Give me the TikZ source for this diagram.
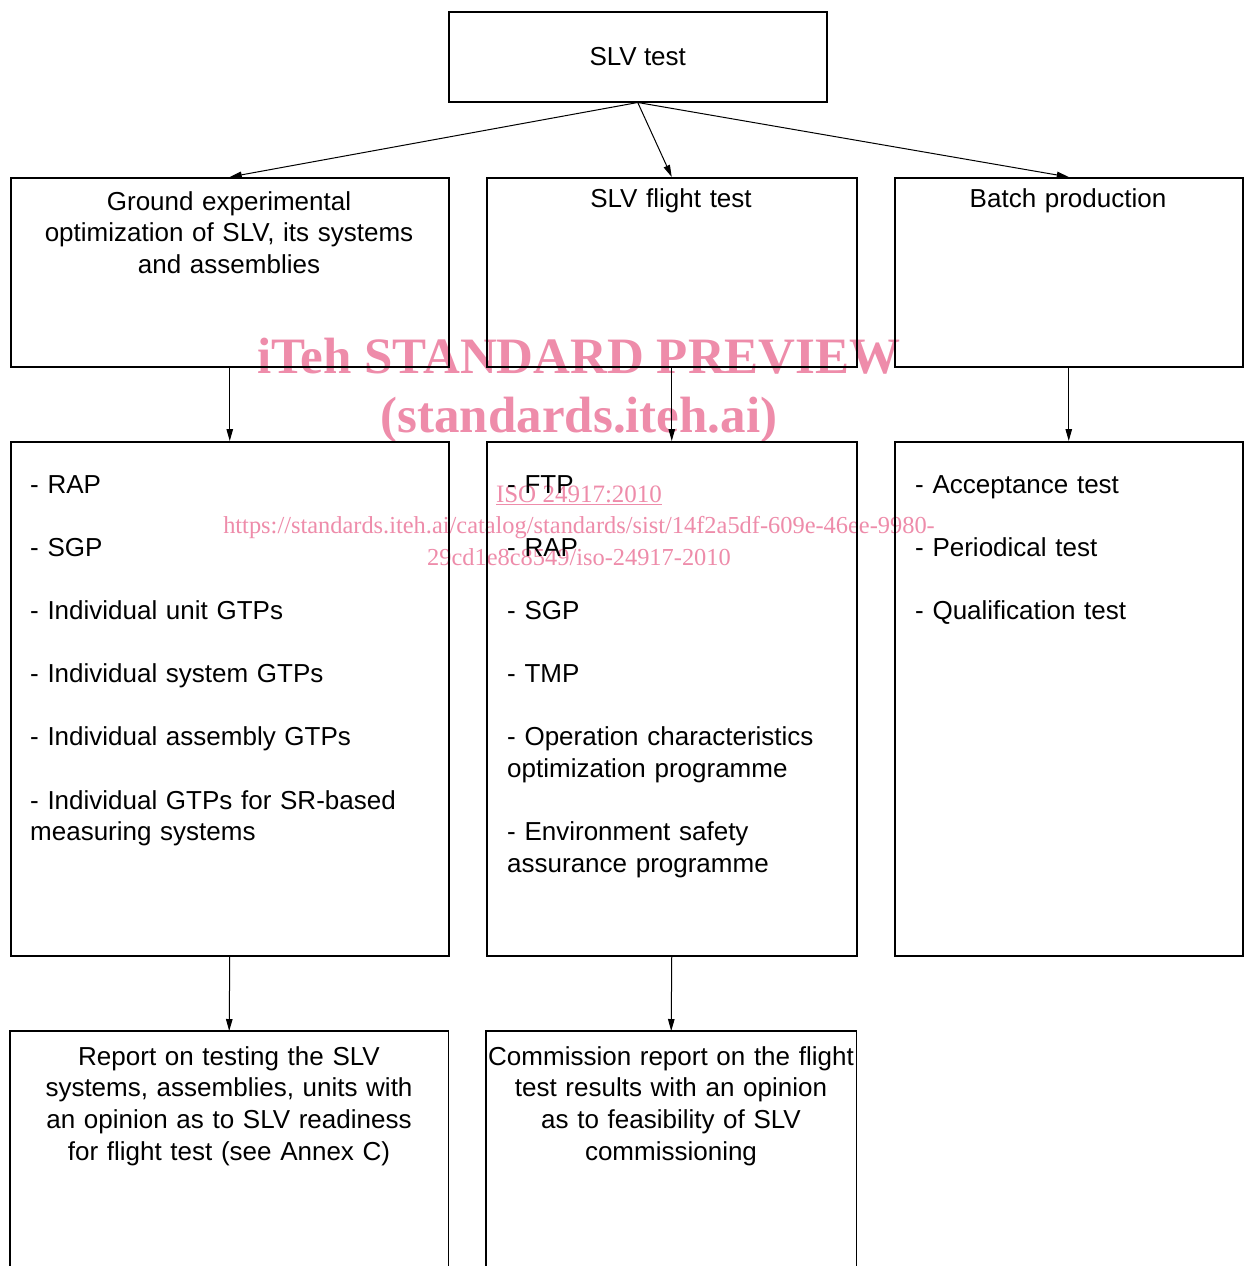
\documentclass[tikz,border=0pt]{standalone}
\usepackage{fontspec}
\setmainfont{Liberation Sans}
\newfontfamily\wmfont{Liberation Serif}
\usetikzlibrary{arrows.meta}
\definecolor{wmpink}{RGB}{238,140,170}
\begin{document}
\begin{tikzpicture}[x=1pt,y=-1pt,
  box/.style={draw, line width=1.5pt, rectangle, inner sep=0pt, anchor=north west},
  arr/.style={-{Triangle[length=12pt,width=6.5pt]}, line width=1pt},
  txt/.style={font=\fontsize{26}{31.7}\selectfont, inner sep=0pt},
  ltxt/.style={txt, anchor=base west, text width=410pt, align=left},
  ctxt/.style={txt, anchor=base, align=center},
  wm/.style={text=wmpink, inner sep=0pt, anchor=base}]
\useasboundingbox[fill=white] (0,0) rectangle (1244,1266);

% watermark
\node[wm, font=\wmfont\bfseries\fontsize{51}{51}\selectfont] (wm1) at (579,373) {iTeh STANDARD PREVIEW};
\node[wm, font=\wmfont\bfseries\fontsize{51}{51}\selectfont] (wm2) at (579,432) {(standards.iteh.ai)};
\node[wm, font=\wmfont\fontsize{25}{25}\selectfont] (wm3) at (579,502) {\underline{ISO 24917:2010}};
\node[wm, font=\wmfont\fontsize{24.4}{24.4}\selectfont] (wm4) at (579,533) {https://standards.iteh.ai/catalog/standards/sist/14f2a5df-609e-46ee-9980-};
\node[wm, font=\wmfont\fontsize{24.4}{24.4}\selectfont] (wm5) at (579,565) {29cd1e8c8549/iso-24917-2010};

% boxes
\node[box, minimum width=378pt, minimum height=90pt] (slv) at (448,11) {};
\node[box, minimum width=438pt, minimum height=189pt] (ground) at (10,177) {};
\node[box, minimum width=370pt, minimum height=189pt] (flight) at (486,177) {};
\node[box, minimum width=348pt, minimum height=189pt] (batch) at (894,177) {};
\node[box, minimum width=438pt, minimum height=514pt] (list1) at (10,441) {};
\node[box, minimum width=370pt, minimum height=514pt] (list2) at (486,441) {};
\node[box, minimum width=348pt, minimum height=514pt] (list3) at (894,441) {};
\node[inner sep=0pt, anchor=north west, minimum width=438pt, minimum height=260pt] (rep1) at (10,1031) {};
\node[inner sep=0pt, anchor=north west, minimum width=370pt, minimum height=260pt] (rep2) at (486,1031) {};
\draw[line width=1.5pt] (rep1.south west) -- (rep1.north west) -- (rep1.north east) -- (rep1.south east);
\draw[line width=1.5pt] (rep2.south west) -- (rep2.north west) -- (rep2.north east) -- (rep2.south east);

% texts
\node[txt] (tslv) at (slv.center) {SLV test};
\node[ctxt, text width=438pt] (tground) at (229,210) {Ground experimental\\optimization of SLV, its systems\\and assemblies};
\node[ctxt, text width=370pt] (tflight) at (671,207) {SLV flight test};
\node[ctxt, text width=348pt] (tbatch) at (1068,207) {Batch production};

\node[ltxt] (tl1) at (30,493) {- RAP\\[31.5pt]- SGP\\[31.5pt]- Individual unit GTPs\\[31.5pt]- Individual system GTPs\\[31.5pt]- Individual assembly GTPs\\[31.5pt]- Individual GTPs for SR-based\\measuring systems};
\node[ltxt, text width=345pt] (tl2) at (507,493) {- FTP\\[31.5pt]- RAP\\[31.5pt]- SGP\\[31.5pt]- TMP\\[31.5pt]- Operation characteristics\\optimization programme\\[31.5pt]- Environment safety\\assurance programme};
\node[ltxt, text width=325pt] (tl3) at (915,493) {- Acceptance test\\[31.5pt]- Periodical test\\[31.5pt]- Qualification test};

\node[ctxt, text width=438pt] (trep1) at (229,1065) {Report on testing the SLV\\systems, assemblies, units with\\an opinion as to SLV readiness\\for flight test (see Annex C)};
\node[ctxt, text width=370pt] (trep2) at (671,1065) {Commission report on the flight\\test results with an opinion\\as to feasibility of SLV\\commissioning};

% connectors
\draw[arr] (slv.south) -- (ground.north);
\draw[arr] (slv.south) -- (flight.north);
\draw[arr] (slv.south) -- (batch.north);
\draw[arr] (ground.south) -- (list1.north);
\draw[arr] (flight.south) -- (list2.north);
\draw[arr] (batch.south) -- (list3.north);
\draw[arr] (list1.south) -- (rep1.north);
\draw[arr] (list2.south) -- (rep2.north);
\end{tikzpicture}
\end{document}
